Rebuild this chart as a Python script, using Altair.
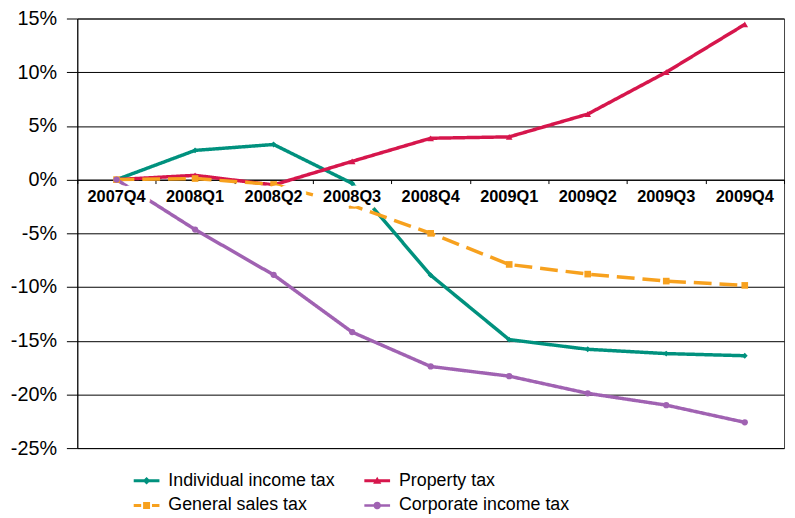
import altair as alt
import pandas as pd

quarters = ["2007Q4", "2008Q1", "2008Q2", "2008Q3", "2008Q4",
            "2009Q1", "2009Q2", "2009Q3", "2009Q4"]
series_names = ["Individual income tax", "Property tax",
                "General sales tax", "Corporate income tax"]
legend_order = ["Individual income tax", "General sales tax",
                "Property tax", "Corporate income tax"]
individual = [0, 2.72, 3.27, -0.35, -8.9, -14.9, -15.8, -16.2, -16.4]
property_tax = [0, 0.4, -0.5, 1.7, 3.85, 3.98, 6.1, 10.0, 14.45]
sales = [0, 0.1, -0.45, -2.4, -5.0, -7.9, -8.8, -9.45, -9.85]
corporate = [0, -4.65, -8.87, -14.2, -17.4, -18.3, -19.9, -21.0, -22.6]
y_ticks = [-25, -20, -15, -10, -5, 0, 5, 10, 15]

colors = ["#00917E", "#D6164C", "#F7A11E", "#A062B2"]
shapes = ["diamond", "triangle-up", "square", "circle"]
sizes = [35, 45, 45, 40]
widths = [3.5, 3.5, 3.5, 2.5]
dashes = [[1, 0], [1, 0], [18, 8], [1, 0]]
# legend symbols: line + marker, drawn entirely as filled shapes
legend_paths = [
    "M-1,-0.11H1V0.11H-1Z M0,-0.3L0.3,0L0,0.3L-0.3,0Z",
    "M-1,-0.11H1V0.11H-1Z M0,-0.32L0.32,0.24H-0.32Z",
    "M-1,-0.11H-0.42V0.11H-1Z M0.42,-0.11H1V0.11H0.42Z M-0.27,-0.27H0.27V0.27H-0.27Z",
    "M-1,-0.09H1V0.09H-1Z M0.29,0A0.29,0.29 0 1 1 -0.29,0A0.29,0.29 0 1 1 0.29,0Z",
]
color_of = dict(zip(series_names, colors))
path_of = dict(zip(series_names, legend_paths))
legend_colors = [color_of[s] for s in legend_order]
legend_shapes = [path_of[s] for s in legend_order]

rows = []
for name, vals in zip(series_names, [individual, property_tax, sales, corporate]):
    for q, v in zip(quarters, vals):
        rows.append({"quarter": q, "series": name, "value": v})
df = pd.DataFrame(rows)
labels_df = pd.DataFrame({"quarter": quarters})

W, H = 714, 434
FONT = "Liberation Sans"

x_enc = alt.X(
    "quarter:N", sort=quarters, bandPosition=0.5,
    scale=alt.Scale(type="band", paddingInner=0, paddingOuter=0, domain=quarters),
    axis=alt.Axis(title=None, labels=False, ticks=True, tickSize=4,
                  tickBand="extent", tickColor="black", domainColor="black",
                  domainWidth=1, offset=-H * 25 / 40, grid=False),
)
y_scale = alt.Scale(domain=[-25, 15], nice=False, zero=False)
y_enc = alt.Y(
    "value:Q", scale=y_scale,
    axis=alt.Axis(title=None, values=y_ticks, labelExpr="datum.value + '%'",
                  labelFontSize=20, labelFont=FONT, labelColor="black",
                  labelPadding=10, tickSize=11, tickColor="black",
                  domainColor="black", gridColor="black", gridWidth=1,
                  grid=True, gridOpacity=1),
)

color_scale = alt.Scale(domain=series_names, range=colors)

lines = alt.Chart(df).mark_line().encode(
    x=x_enc, y=y_enc,
    color=alt.Color("series:N", scale=color_scale, legend=None),
    strokeWidth=alt.StrokeWidth("series:N", scale=alt.Scale(domain=series_names, range=widths), legend=None),
    strokeDash=alt.StrokeDash("series:N", scale=alt.Scale(domain=series_names, range=dashes), legend=None),
)

point_layers = []
for name, shp, sz in zip(series_names, shapes, sizes):
    point_layers.append(
        alt.Chart(df).transform_filter(alt.datum.series == name)
        .mark_point(filled=True, opacity=1, shape=shp, size=sz)
        .encode(x=x_enc, y=y_enc,
                color=alt.Color("series:N", scale=color_scale, legend=None))
    )

label_halo = alt.Chart(labels_df).mark_text(
    font=FONT, fontWeight="bold", fontSize=16.5, dy=17.5,
    color="white", stroke="white", strokeWidth=9, strokeJoin="round",
).encode(x=x_enc, y=alt.datum(0), text="quarter:N")

label_text = alt.Chart(labels_df).mark_text(
    font=FONT, fontWeight="bold", fontSize=16.5, dy=17.5, color="black",
).encode(x=x_enc, y=alt.datum(0), text="quarter:N")

leg_def = alt.Legend(
    title=None, orient="none", legendX=57, legendY=454, columns=2,
    columnPadding=29, rowPadding=3, symbolSize=676, symbolStrokeWidth=0,
    labelFontSize=18, labelFont=FONT,
    labelColor="black", labelOffset=9, labelLimit=400, padding=0,
    symbolOpacity=1,
)
legend_layer = alt.Chart(df).transform_calculate(
    lseries="datum.series"
).mark_point(filled=True, opacity=0).encode(
    x=x_enc, y=y_enc,
    fill=alt.Fill("lseries:N", scale=alt.Scale(domain=legend_order, range=legend_colors), legend=leg_def),
    shape=alt.Shape("lseries:N", scale=alt.Scale(domain=legend_order, range=legend_shapes), legend=leg_def),
)

chart = alt.layer(lines, *point_layers, label_halo, label_text, legend_layer).properties(
    width=W, height=H,
    autosize=alt.AutoSizeParams(type="none"),
    padding={"left": 70, "top": 8, "right": 3, "bottom": 68},
    background="white",
).configure_view(stroke="#444", strokeWidth=1)

chart.save("out.html", embed_options={"renderer": "svg", "actions": False})
